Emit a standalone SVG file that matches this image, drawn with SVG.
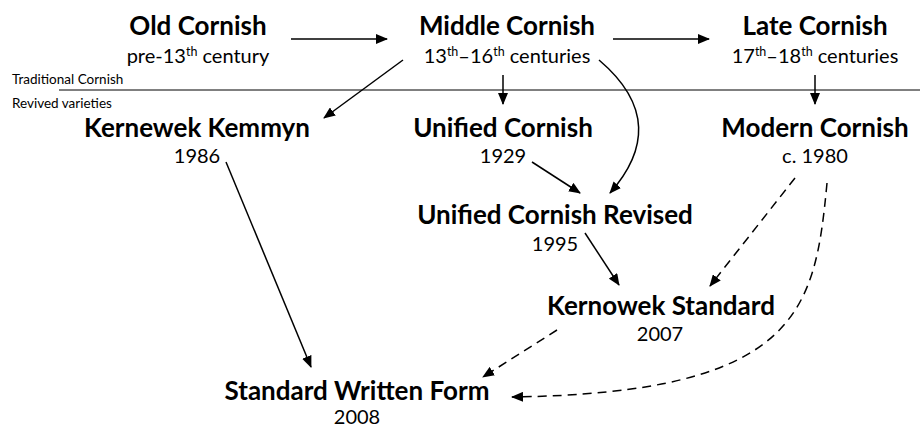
<svg xmlns="http://www.w3.org/2000/svg" width="920" height="427" viewBox="0 0 920 427">
<defs>
<marker id="ah" markerWidth="12" markerHeight="10" refX="11" refY="5" orient="auto" markerUnits="userSpaceOnUse">
<path d="M0,0 L12,5 L0,10 Z" fill="#000"/>
</marker>
<style>
.t{font-family:Lato,"Liberation Sans",sans-serif;font-weight:bold;font-size:26px;fill:#000;text-anchor:middle}
.s{font-family:Lato,"Liberation Sans",sans-serif;font-size:20px;fill:#000;text-anchor:middle}
.sup{font-size:12.5px}
.l{font-family:Lato,"Liberation Sans",sans-serif;font-size:13.5px;fill:#000}
.c{fill:none;stroke:#000;stroke-width:1.5;marker-end:url(#ah)}
.d{stroke-dasharray:9,6}
</style>
</defs>
<rect width="920" height="427" fill="#fff"/>
<g id="divider">
<text class="l" x="12" y="84">Traditional Cornish</text>
<line x1="59" y1="90" x2="920" y2="90" stroke="#000" stroke-width="1"/>
<text class="l" x="12" y="108">Revived varieties</text>
</g>
<g id="old-cornish">
<text class="t" x="198" y="35">Old Cornish</text>
<text class="s" x="198" y="63">pre-13<tspan class="sup" dy="-7">th</tspan><tspan dy="7"> century</tspan></text>
</g>
<g id="middle-cornish">
<text class="t" x="507" y="35">Middle Cornish</text>
<text class="s" x="507" y="63">13<tspan class="sup" dy="-7">th</tspan><tspan dy="7">–16</tspan><tspan class="sup" dy="-7">th</tspan><tspan dy="7"> centuries</tspan></text>
</g>
<g id="late-cornish">
<text class="t" x="815" y="35">Late Cornish</text>
<text class="s" x="815" y="63">17<tspan class="sup" dy="-7">th</tspan><tspan dy="7">–18</tspan><tspan class="sup" dy="-7">th</tspan><tspan dy="7"> centuries</tspan></text>
</g>
<g id="kernewek-kemmyn">
<text class="t" x="197" y="137">Kernewek Kemmyn</text>
<text class="s" x="197" y="163">1986</text>
</g>
<g id="unified-cornish">
<text class="t" x="503" y="137">Unified Cornish</text>
<text class="s" x="503" y="163">1929</text>
</g>
<g id="modern-cornish">
<text class="t" x="815" y="137">Modern Cornish</text>
<text class="s" x="815" y="163">c. 1980</text>
</g>
<g id="unified-cornish-revised">
<text class="t" x="555" y="224">Unified Cornish Revised</text>
<text class="s" x="555" y="251">1995</text>
</g>
<g id="kernowek-standard">
<text class="t" x="661" y="315">Kernowek Standard</text>
<text class="s" x="660" y="341">2007</text>
</g>
<g id="standard-written-form">
<text class="t" x="357" y="400">Standard Written Form</text>
<text class="s" x="357" y="424">2008</text>
</g>
<g id="connectors">
<line class="c" x1="291" y1="39" x2="387" y2="39"/>
<line class="c" x1="613" y1="39" x2="709" y2="39"/>
<line class="c" x1="403" y1="60" x2="324" y2="118"/>
<line class="c" x1="503" y1="75" x2="503" y2="104"/>
<line class="c" x1="815" y1="75" x2="815" y2="104"/>
<path class="c" d="M599,60 C652,105 648,150 610,193"/>
<line class="c" x1="532" y1="162" x2="580" y2="193"/>
<line class="c" x1="585" y1="233" x2="619" y2="285"/>
<line class="c d" x1="795" y1="178" x2="710" y2="286"/>
<path class="c d" d="M827,183 C815,310 800,393 512,397"/>
<line class="c d" x1="557" y1="330" x2="483" y2="377"/>
<line class="c" x1="226" y1="162" x2="311" y2="367"/>
</g>
</svg>
